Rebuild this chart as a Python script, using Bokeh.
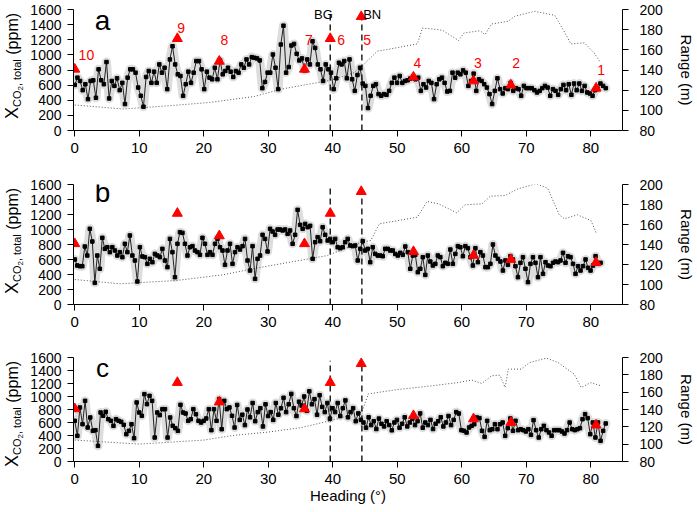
import numpy as np
from bokeh.plotting import figure
from bokeh.models import Range1d, LinearAxis, Label, FixedTicker, Div
from bokeh.layouts import column, row
from bokeh.embed import file_html
from bokeh.resources import INLINE
from bokeh.core.properties import value

FONT = "Liberation Sans"

# ---------------- data ----------------
xco2_a = [603, 699, 655, 533, 612, 415, 655, 664, 433, 809, 664, 612, 905, 424, 655, 590, 690, 533, 630, 350,
          699, 809, 809, 765, 568, 459, 315, 708, 787, 630, 778, 630, 874, 765, 830, 547, 940, 1114, 874, 743,
          721, 459, 612, 778, 630, 765, 918, 918, 809, 547, 778, 699, 677, 830, 677, 927, 743, 787, 830, 778,
          708, 787, 765, 874, 830, 940, 874, 970, 961,
          953, 927, 560, 642, 765, 765, 1005, 830, 547, 1137, 1386, 765, 839, 1124, 1145, 1014, 927, 953, 795, 940,
          874, 1180, 1092, 874, 809, 655, 874, 809, 765, 547, 690, 896, 874, 918, 690, 940, 677, 524, 734, 830,
          621, 590, 297, 459, 590, 612, 481, 459, 481, 472, 524, 630, 699, 630, 721, 630, 655, 664, 686, 708,
          677, 699, 524, 612, 568, 655, 630, 415, 612, 677, 699,
          630, 516, 524, 765, 699, 765, 743, 795, 765, 590, 655, 752, 524, 677, 655, 612, 568, 481, 350, 524,
          690, 547, 490, 560, 547, 630, 524, 560, 547, 459, 590, 560, 560, 560, 533, 503, 524, 560, 590, 568,
          459, 547, 524, 472, 547, 603, 533, 612, 472, 621, 533, 621, 524, 590, 503, 490, 459, 533, 547, 621,
          590, 560]
xco2_b = [600, 520, 511, 511, 773, 653, 1009, 840, 289, 653, 476, 889, 742, 764, 698, 764, 720, 653, 698, 631,
          809, 698, 920, 653, 587, 307, 764, 640, 631, 542, 609, 564, 675, 653, 631, 742, 587, 498, 875, 698,
          364, 809, 964, 955, 809, 653, 764, 778, 720, 698, 662, 889, 809, 662, 698, 662, 809, 875, 764, 720,
          529, 720, 809, 542, 698, 764, 733, 778, 875, 587, 453, 778, 342, 609,
          653, 929, 875, 707, 1009, 973, 929, 1000, 1000, 987, 1000, 942, 987, 809, 929, 1262, 1062, 1009, 1075, 1031,
          1049, 609, 831, 898, 844, 1031, 929, 853, 875, 831, 875, 764, 751, 764, 831, 875, 787, 778, 787, 587,
          742, 844, 720, 742, 564, 764, 675, 653, 653, 644, 742, 742, 720, 720, 675, 653, 689, 662, 773, 698,
          476, 653, 662, 431, 476, 631, 395, 653, 573, 520, 542, 653, 631,
          511, 556, 542, 733, 542, 675, 778, 764, 644, 778, 751, 631, 520, 751, 564, 698, 653, 498, 498, 542,
          800, 653, 609, 573, 453, 587, 529, 644, 600, 511, 364, 556, 631, 476, 298, 542, 631, 556, 364, 631,
          409, 564, 520, 511, 556, 573, 564, 587, 689, 556, 644, 631, 542, 409, 511, 453, 511, 600, 489, 453,
          520, 644, 542, 556]
xco2_c = [626, 395, 831, 574, 933, 523, 677, 472, 482, 241, 754, 703, 764, 651, 626, 549, 651, 626, 610, 564,
          420, 472, 574, 359, 908, 754, 703, 1036, 882, 1010, 933, 369, 754, 713, 805, 805, 369, 677, 549, 513,
          472, 872, 754, 738, 626, 651, 805, 728, 626, 600, 626, 662, 805, 482, 805, 626, 959, 497, 933, 805,
          831, 703, 523,
          870, 640, 720, 560, 800, 680, 900, 620,
          760, 820, 540, 880, 700, 760, 640, 900, 720, 820,
          980, 760, 880, 1040, 820, 700, 920, 860, 1000, 780,
          1080, 880, 960, 720, 1020, 840, 760, 900, 660, 820,
          760, 900, 700, 820, 940, 680, 760, 820, 620, 740,
          640, 600, 520, 680, 560, 620, 500, 660, 580, 540,
          620, 560, 480, 600, 640, 520, 580, 680, 540, 600,
          660, 560, 620, 740, 520, 600, 560, 640, 500, 580,
          620, 680, 540, 600, 700, 560, 640, 760,
          738, 482, 472, 446, 523, 549, 574, 677, 667, 472, 379, 626, 482, 497, 574, 497, 574, 600, 395, 513,
          662, 472, 626, 482, 497, 482, 462, 497, 410, 636, 482, 369, 497, 549, 482, 446, 395, 482, 482, 482,
          462, 431, 482, 600, 497, 482, 497, 513, 651, 728, 667, 420, 600, 369, 600, 318, 472, 585]
last_heading = {"a": 82.3, "b": 81.5, "c": 82.3}

range_heading_a = [0, 7.5, 14.7, 20.9, 27.8, 32, 39.7, 43.3, 44.8, 46.9, 48.5, 53.1, 53.9, 56.4, 57.1, 59.5,
                   60.3, 62.8, 63.6, 64.6, 67.2, 68.2, 71.3, 74.4, 75.7, 76.9, 79, 80.5, 81.5]
range_m_a = [105.3, 101.3, 104.6, 107.8, 113.7, 121, 129.9, 137.3, 145.6, 158.7, 160.4, 165.9, 181.6, 180, 179,
             169.2, 176.6, 179, 175.1, 185.6, 188.3, 193.3, 198.2, 194.2, 180, 165.9, 166.9, 157, 147.2]
range_heading_b = [0, 7, 15.7, 23, 27.8, 39.2, 44.4, 45.9, 47.2, 53.1, 54.6, 56.4, 59.2, 60.5, 63.1, 64.4,
                   66.7, 68.7, 71.5, 73.3, 75.1, 75.9, 77.9, 80, 80.9]
range_m_b = [105, 100.7, 104, 109.7, 116, 129, 142.3, 144, 160.7, 167.3, 183, 180.7, 171.7, 179.7, 180.7, 188.3,
             189, 195.7, 200.7, 196.3, 169.7, 165.7, 169.7, 164, 150.7]
range_heading_c = [0, 10, 20, 24.5, 30, 35, 39.6, 44.5, 45.5, 50, 55, 59.5, 61.5, 63.1, 64.6, 65.9, 66.7, 67.2,
                   69.2, 70.5, 73.1, 74.9, 77.4, 78.5, 80, 81.5]
range_m_c = [104.7, 100.1, 104.7, 110, 114, 119, 127, 137, 158, 163, 167, 171.2, 174, 170, 178.9, 179.6, 165.4,
             186.6, 186.6, 194.2, 199.3, 194.2, 180.9, 165.4, 171, 167.5]

source_heading = [0, 15.9, 22.4, 35.6, 39.6, 44.4, 52.5, 61.8, 67.6, 80.8]
source_xco2 = [810, 1215, 915, 810, 1215, 1505, 705, 655, 600, 560]
source_name = ["10", "9", "8", "7", "6", "5", "4", "3", "2", "1"]
name_heading = [1.8, 16.5, 23.2, 36.3, 41.3, 45.3, 53.1, 62.5, 68.4, 81.6]
name_xco2 = [992, 1354, 1202, 1202, 1202, 1202, 895, 895, 895, 804]

event_heading = [39.6, 44.5]
event_top = [1550, 1550]
event_name = ["BG", "BN"]

x_ticks = [0, 10, 20, 30, 40, 50, 60, 70, 80]
y_ticks = [0, 200, 400, 600, 800, 1000, 1200, 1400, 1600]
r_ticks = [80, 100, 120, 140, 160, 180, 200]

# ---------------- layout ----------------
STRIP = 24
W = 697 - STRIP
BL, BR = 49, 72
X0, X1 = -0.2, 84.9

# (top border, frame height, bottom border) per panel
GEOM = {"a": (9, 121, 34), "b": (20, 120, 34), "c": (19, 104, 49)}
TOTAL_H = sum(sum(g) for g in GEOM.values())


def panel(letter, letter_size, letter_y, heading, xco2, rh, rm, numbers, xlabel):
    top, fh, bottom = GEOM[letter]
    p = figure(width=W, height=top + fh + bottom, x_range=Range1d(X0, X1), y_range=Range1d(0, 1600),
               output_backend="svg", toolbar_location=None, title=None,
               min_border_left=BL, min_border_right=BR, min_border_top=top, min_border_bottom=bottom)
    p.outline_line_color = None
    p.grid.visible = False
    p.extra_y_ranges = {"rng": Range1d(80, 200)}

    xa = p.xaxis[0]
    ya = p.yaxis[0]
    xa.ticker = FixedTicker(ticks=x_ticks, minor_ticks=[])
    ya.ticker = FixedTicker(ticks=y_ticks, minor_ticks=[])
    ra = LinearAxis(y_range_name="rng", ticker=FixedTicker(ticks=r_ticks, minor_ticks=[]), axis_label="Range (m)")
    p.add_layout(ra, "right")
    for ax in (xa, ya, ra):
        ax.axis_line_color = "black"
        ax.major_tick_line_color = "black"
        ax.major_tick_out = 6
        ax.major_tick_in = 0
        ax.minor_tick_out = 0
        ax.minor_tick_in = 0
        ax.major_label_text_font = FONT
        ax.major_label_text_font_size = "14px"
        ax.major_label_text_color = "black"
        ax.axis_label_text_font = FONT
        ax.axis_label_text_font_size = "15px"
        ax.axis_label_text_font_style = "normal"
        ax.axis_label_text_color = "black"
    xa.major_label_text_font_size = "15px"
    xa.major_label_standoff = 6
    ya.major_label_standoff = 6
    ra.major_label_standoff = 11
    ra.axis_label_standoff = 12
    if xlabel:
        xa.axis_label = "Heading (°)"
        xa.axis_label_standoff = 0

    # uncertainty band
    p.line(heading, xco2, line_width=9, color="#dddddd", line_join="round", line_cap="round")
    # range (right axis)
    p.line(rh, rm, y_range_name="rng", line_dash="1 2", line_width=1, color="#555555")
    # events
    p.segment(x0=event_heading, y0=[0, 0], x1=event_heading, y1=event_top,
              line_dash="6 4", line_width=1.5, color="#222222")
    # data
    p.line(heading, xco2, line_width=1, color="#222222")
    p.scatter(heading, xco2, marker="square", size=3.5, color="black")
    # sources
    p.scatter(source_heading, source_xco2, marker="triangle", size=10, color="red", line_color="red")

    if numbers:
        p.text(x=name_heading, y=name_xco2, text=source_name, text_font=value(FONT), text_font_size="14px",
               text_color="red", text_align="center", text_baseline="middle")
        p.add_layout(Label(x=event_heading[0] + 0.4, y=1540, text=event_name[0], text_align="right",
                           text_baseline="alphabetic", text_font=FONT, text_font_size="13px", text_color="black"))
        p.add_layout(Label(x=event_heading[1] + 0.2, y=1540, text=event_name[1], text_align="left",
                           text_baseline="alphabetic", text_font=FONT, text_font_size="13px", text_color="black"))

    p.add_layout(Label(x=4.3, y=letter_y, text=letter, text_align="center", text_baseline="alphabetic",
                       text_font=FONT, text_font_size=letter_size, text_color="black"))
    return p


def headings(vals, key):
    return np.linspace(0, last_heading[key], len(vals))


pa = panel("a", "28px", 1460, headings(xco2_a, "a"), xco2_a, range_heading_a, range_m_a, True, False)
pb = panel("b", "28px", 1495, headings(xco2_b, "b"), xco2_b, range_heading_b, range_m_b, False, False)
pc = panel("c", "26px", 1440, headings(xco2_c, "c"), xco2_c, range_heading_c, range_m_c, False, True)

# ---------------- y-axis titles X_{CO2, total} (ppm), rotated HTML text ----------------
LABEL_CENTER = [65.5, 240.5, 414]   # vertical centre of each title, px from the top


def ytitle(yc):
    return (f'<div style="position:absolute; left:12px; top:{yc}px; '
            'transform:translate(-50%,-50%) rotate(-90deg); white-space:nowrap; '
            f"font-family:'{FONT}'; color:black; line-height:1;\">"
            '<span style="font-size:18px">X</span>'
            '<span style="font-size:11px; position:relative; top:3px">CO'
            '<span style="font-size:8px; position:relative; top:2px">2</span>, total</span>'
            '<span style="font-size:16px">&nbsp;(ppm)</span></div>')


strip = Div(text=f'<div style="position:relative; width:{STRIP}px; height:{TOTAL_H}px;">'
                 + "".join(ytitle(c) for c in LABEL_CENTER) + "</div>",
            width=STRIP, height=TOTAL_H, margin=0)

layout = row(strip, column(pa, pb, pc, spacing=0), spacing=0)
open("out.html", "w").write(file_html(layout, INLINE))
